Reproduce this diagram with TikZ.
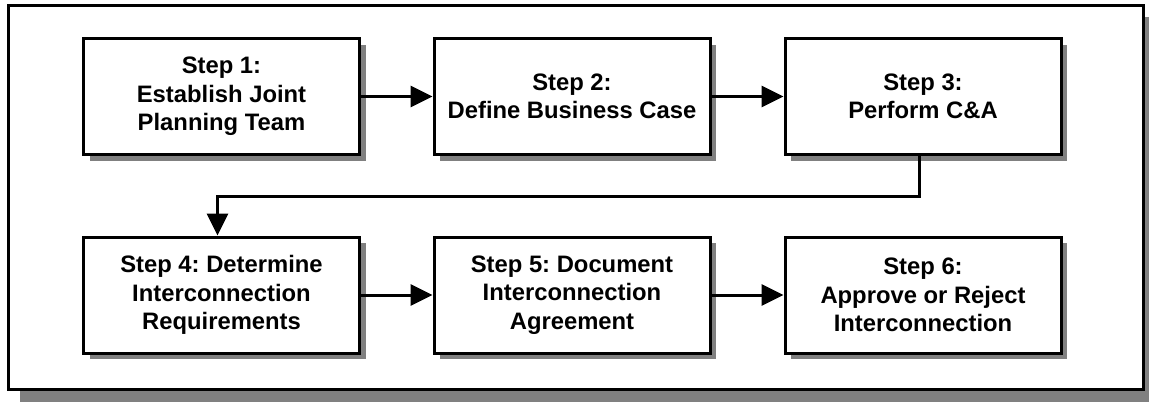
\documentclass[tikz,border=0pt]{standalone}
\usepackage{fontspec}
\setmainfont{Liberation Sans}
\frenchspacing
\usetikzlibrary{arrows.meta,shadows}

\tikzset{
	stepbox/.style={draw,line width=3pt,fill=white,align=center,
		minimum width=276pt,minimum height=116pt,inner sep=0pt,
		font=\fontsize{23.8pt}{28.5pt}\selectfont\bfseries,
		drop shadow={shadow xshift=6pt,shadow yshift=-6pt,fill=gray,opacity=1}},
	flow/.style={line width=3pt,-{Triangle[length=22pt,width=21pt]}}
}

\begin{document}
\begin{tikzpicture}[x=1pt,y=-1pt]
	\useasboundingbox (0,0) rectangle (1149,402);
	
	%FRAME
	\fill[gray] (20,17) rectangle (1155,402);
	\draw[line width=3pt,fill=white] (8,5) rectangle (1143,389);
	
	%STEPS
	\node[stepbox] (s1) at (221.5,96.5) {Step 1:\\Establish Joint\\Planning Team};
	\node[stepbox] (s2) at (572,96.5) {Step 2:\\Define Business Case};
	\node[stepbox] (s3) at (923,96.5) {Step 3:\\Perform C\&A};
	%
	\node[stepbox] (s4) at (221.5,295) {Step 4: Determine\\Interconnection\\Requirements};
	\node[stepbox] (s5) at (572,295) {Step 5: Document\\Interconnection\\Agreement};
	\node[stepbox] (s6) at (923,295) {Step 6:\\Approve or Reject\\Interconnection};
	
	%ARROWS
	\draw[flow] (s1) -- (s2);
	\draw[flow] (s2) -- (s3);
	\draw[flow] ([xshift=-4pt]s3.south) -- ++(0,40) -| ([xshift=-4pt]s4.north);
	\draw[flow] (s4) -- (s5);
	\draw[flow] (s5) -- (s6);
\end{tikzpicture}
\end{document}
